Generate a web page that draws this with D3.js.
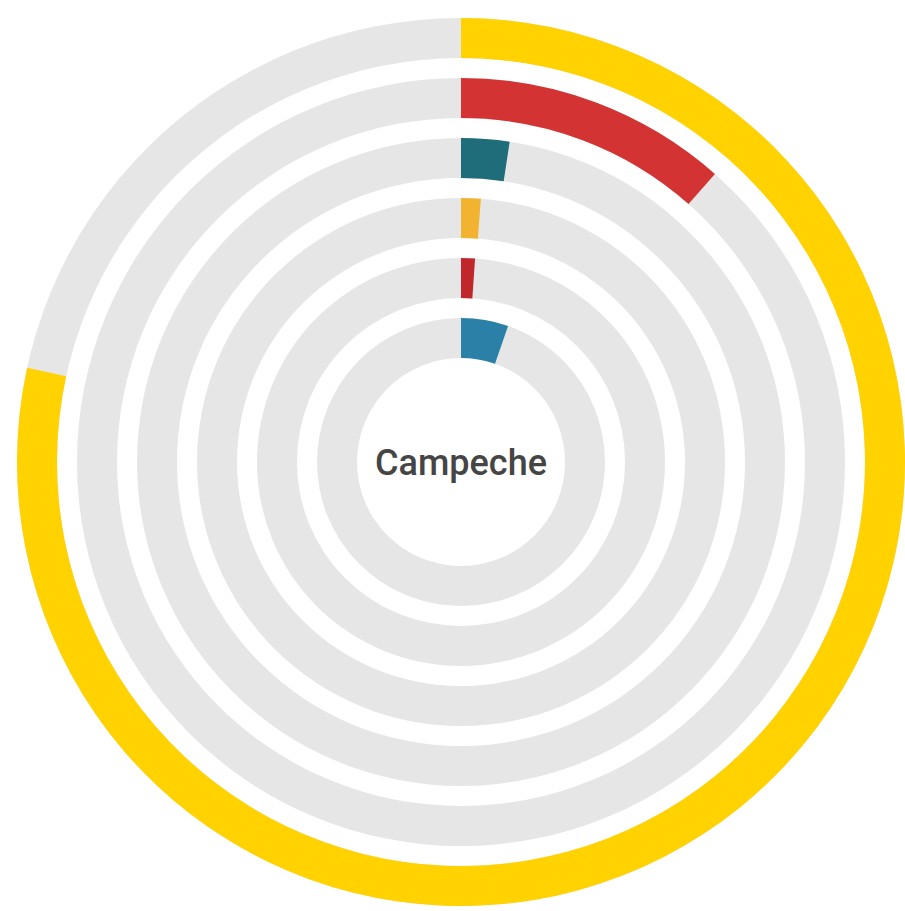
<!DOCTYPE html>
<html>
<head>
<meta charset="utf-8">
<script src="https://cdn.jsdelivr.net/npm/d3@7"></script>
<style>
  body { margin: 0; background: #fff; }
  .label { font-family: Roboto, "Noto Sans", sans-serif; font-weight: 500; fill: #454545; }
</style>
</head>
<body>
<script>
// rings, outer to inner
var rings = ["r1", "r2", "r3", "r4", "r5", "r6"];
var values = [78.4, 11.5, 2.4, 1.2, 1.1, 5.3];   // percent of full circle
var colors = ["#ffd200", "#d33333", "#1f6c7a", "#f2b331", "#bf272b", "#2a80a6"];
var title = "Campeche";

var width = 905, height = 911;
var cx = 461, cy = 462;

var svg = d3.select("body").append("svg")
  .attr("width", width)
  .attr("height", height);

var g = svg.append("g")
  .attr("transform", `translate(${cx},${cy})`);

var angle = d3.scaleLinear()
  .domain([0, 100])
  .range([0, 2 * Math.PI]);

/* outer ring first in the list -> largest radius */
var radius = d3.scaleBand()
  .domain(rings.slice().reverse())
  .range([104, 444])
  .paddingInner(1/3)
  .paddingOuter(0);

var arc = d3.arc()
  .innerRadius(d => radius(d.ring))
  .outerRadius(d => radius(d.ring) + radius.bandwidth())
  .startAngle(0);

var data = rings.map(function(r, i) {
  return { ring: r, value: values[i], color: colors[i] };
});

// grey tracks
g.selectAll("path.track")
  .data(data)
  .enter()
  .append("path")
  .attr("class", "track")
  .attr("d", d => arc.endAngle(2 * Math.PI)(d))
  .style("fill", "#e6e6e6");

// value bars
g.selectAll("path.bar")
  .data(data)
  .enter()
  .append("path")
  .attr("class", "bar")
  .attr("d", d => arc.endAngle(angle(d.value))(d))
  .style("fill", d => d.color);

g.append("text")
  .attr("class", "label")
  .attr("x", 0)
  .attr("y", 13)
  .attr("text-anchor", "middle")
  .style("font-size", "36px")
  .text(title);
</script>
</body>
</html>
